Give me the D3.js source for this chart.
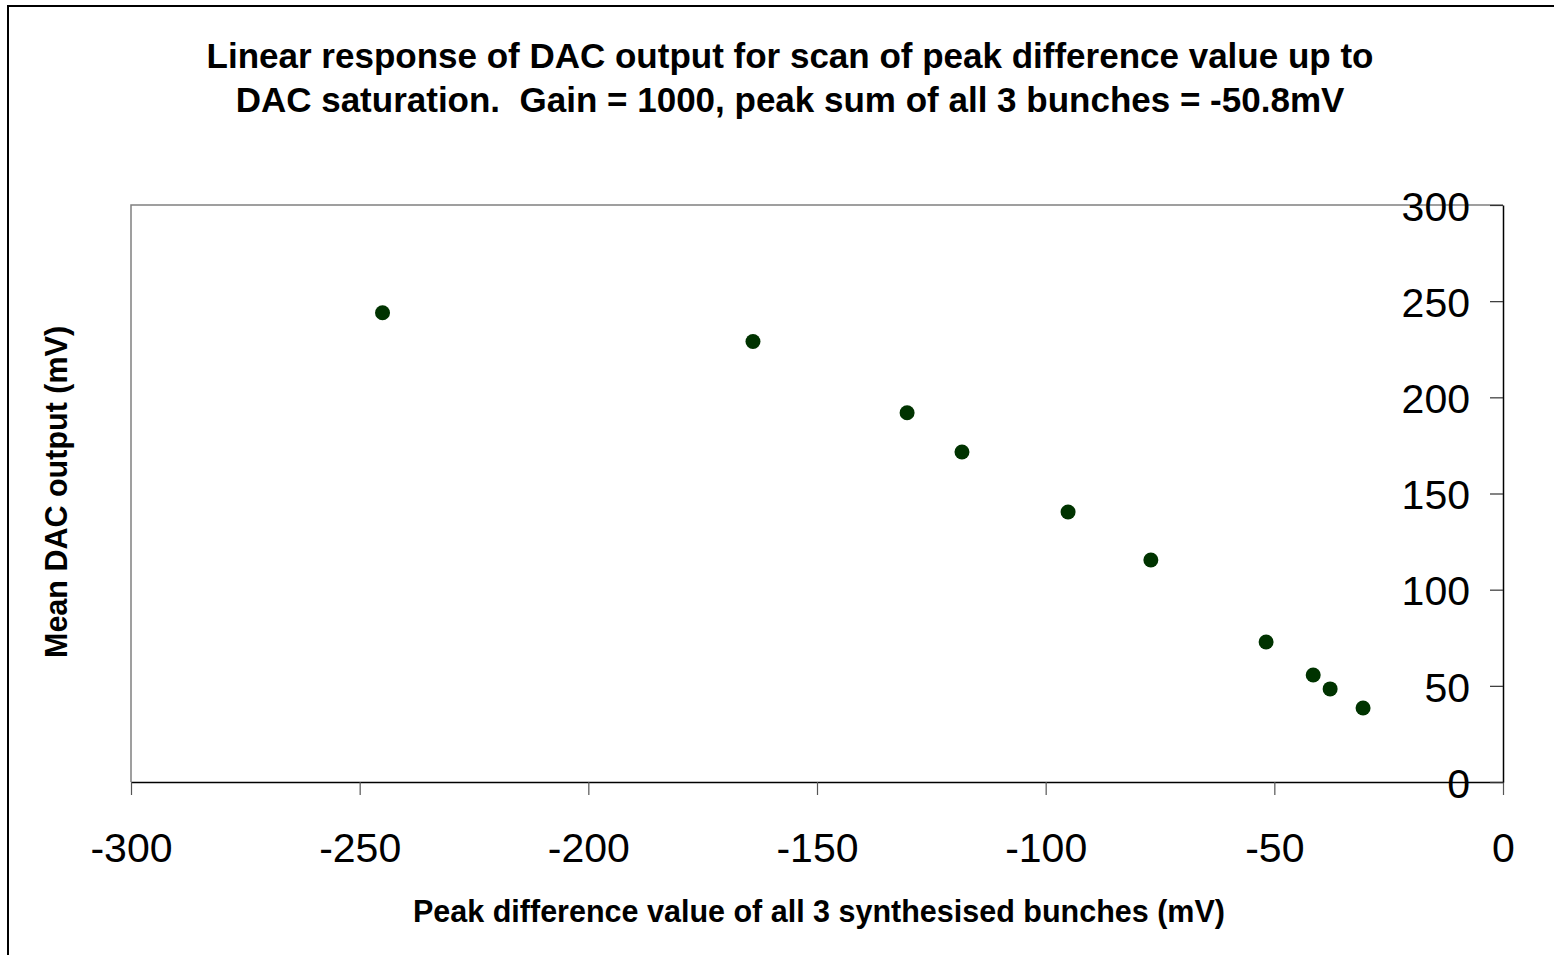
<!DOCTYPE html>
<html>
<head>
<meta charset="utf-8">
<script src="https://cdn.jsdelivr.net/npm/d3@7"></script>
<style>
  html, body { margin: 0; padding: 0; background: #fff; }
  svg { display: block; }
  text { font-family: "Liberation Sans", Arial, sans-serif; fill: #000; white-space: pre; }
</style>
</head>
<body>
<svg id="chart" width="1554" height="955"></svg>
<script>
const titleLines = [
  "Linear response of DAC output for scan of peak difference value up to",
  "DAC saturation.  Gain = 1000, peak sum of all 3 bunches = -50.8mV"
];
const xAxisTitle = "Peak difference value of all 3 synthesised bunches (mV)";
const yAxisTitle = "Mean DAC output (mV)";

const peakDifference = [-245, -164, -130.3, -118.3, -95.1, -77, -51.8, -41.5, -37.8, -30.6];
const meanDacOutput  = [244, 229, 192, 171.6, 140.4, 115.4, 72.8, 55.6, 48.4, 38.5];

const xTicks = [-300, -250, -200, -150, -100, -50, 0];
const yTicks = [0, 50, 100, 150, 200, 250, 300];

const svg = d3.select("#chart");

// outer frame
svg.append("rect")
  .attr("x", 8).attr("y", 6).attr("width", 1600).attr("height", 1000)
  .attr("fill", "none").attr("stroke", "#000").attr("stroke-width", 2);

const plot = { left: 131, right: 1503, top: 205, bottom: 782 };

const x = d3.scaleLinear().domain([-300, 0]).range([plot.left, plot.right]);
const y = d3.scaleLinear().domain([0, 300]).range([plot.bottom, plot.top]);

// plot area top and left border (gray)
svg.append("path")
  .attr("d", `M${plot.left},${plot.bottom} V${plot.top} H${plot.right}`)
  .attr("fill", "none").attr("stroke", "#808080").attr("stroke-width", 1.5);

const fmt = d => String(d);

// x axis
const xAxis = svg.append("g")
  .attr("transform", `translate(0,${plot.bottom})`)
  .call(d3.axisBottom(x).tickValues(xTicks).tickSize(13).tickSizeOuter(0).tickFormat(fmt));
xAxis.select(".domain").attr("stroke", "#000").attr("stroke-width", 1.5);
xAxis.selectAll(".tick line").attr("stroke", "#555").attr("stroke-width", 1.2);
xAxis.selectAll(".tick text")
  .attr("y", 66).attr("dy", "0.35em")
  .style("font-family", "'Liberation Sans', Arial, sans-serif")
  .style("font-size", "41px");

// y axis on the right, ticks inward
const yAxis = svg.append("g")
  .attr("transform", `translate(${plot.right},0)`)
  .call(d3.axisLeft(y).tickValues(yTicks).tickSize(13).tickSizeOuter(0).tickFormat(fmt));
yAxis.select(".domain").attr("stroke", "#000").attr("stroke-width", 1.5);
yAxis.selectAll(".tick line").attr("stroke", "#333").attr("stroke-width", 1.2);
yAxis.selectAll(".tick text")
  .attr("x", -33).attr("dy", "0.37em")
  .style("font-family", "'Liberation Sans', Arial, sans-serif")
  .style("font-size", "41px");

// points
svg.append("g").selectAll("circle")
  .data(peakDifference.map((d, i) => [d, meanDacOutput[i]]))
  .join("circle")
  .attr("cx", d => x(d[0]))
  .attr("cy", d => y(d[1]))
  .attr("r", 7.5)
  .attr("fill", "#003300");

// title
svg.append("g").selectAll("text")
  .data(titleLines)
  .join("text")
  .attr("x", 790)
  .attr("y", (d, i) => 68 + i * 44)
  .attr("text-anchor", "middle")
  .style("font-size", "35px")
  .style("font-weight", "bold")
  .text(d => d);

// axis titles
svg.append("text")
  .attr("x", 819).attr("y", 922)
  .attr("text-anchor", "middle")
  .style("font-size", "30.5px").style("font-weight", "bold")
  .text(xAxisTitle);

svg.append("text")
  .attr("transform", "translate(67,492) rotate(-90)")
  .attr("text-anchor", "middle")
  .style("font-size", "30.5px").style("font-weight", "bold")
  .text(yAxisTitle);
</script>
</body>
</html>
